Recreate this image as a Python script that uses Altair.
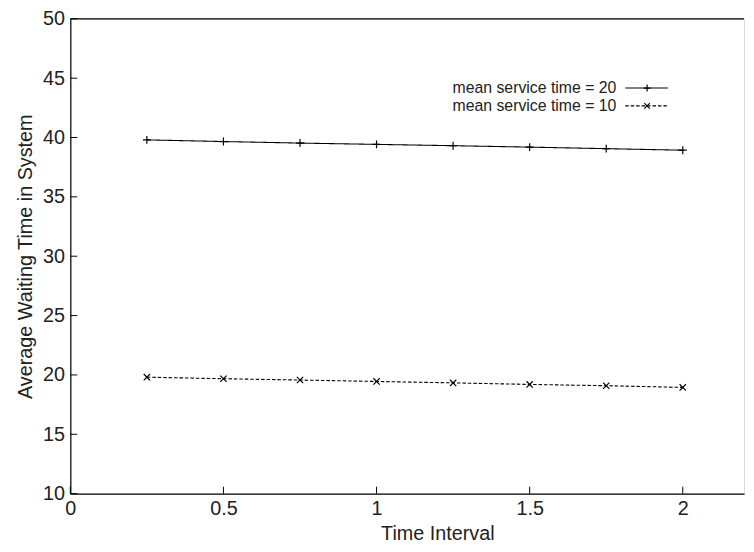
import altair as alt
import pandas as pd

# ---- data ----
time_interval = [0.25, 0.5, 0.75, 1.0, 1.25, 1.5, 1.75, 2.0]
wait_service20 = [39.80, 39.66, 39.53, 39.42, 39.31, 39.19, 39.06, 38.93]
wait_service10 = [19.81, 19.68, 19.57, 19.45, 19.33, 19.20, 19.09, 18.95]
series_labels = ["mean service time = 20", "mean service time = 10"]
x_ticks = [0, 0.5, 1, 1.5, 2]
y_ticks = [10, 15, 20, 25, 30, 35, 40, 45, 50]

# ---- styling ----
W, H = 681, 480
FONT = "Liberation Sans"
TXT = "#222222"
PLUS = "M-1,0L1,0M0,-1L0,1"
XMARK = "M-0.8,-0.8L0.8,0.8M-0.8,0.8L0.8,-0.8"
DASHES = [[1, 0], [3.5, 2]]
SHAPES = [PLUS, XMARK]
FS = 20

rows = []
for lab, vals in zip(series_labels, [wait_service20, wait_service10]):
    for t, v in zip(time_interval, vals):
        rows.append({"t": t, "w": v, "series": lab})
df = pd.DataFrame(rows)

xs = alt.Scale(domain=[0, 2.2], nice=False, zero=False)
ys = alt.Scale(domain=[10, 50], nice=False, zero=False)

x_enc = alt.X("t:Q", scale=xs, axis=alt.Axis(
    title="Time Interval", values=x_ticks, format="~g", tickSize=0, labelPadding=5,
    labelFontSize=FS, titleFontSize=FS, titleFontWeight="normal", titlePadding=5,
    titleX=371, titleAlign="center",
    labelFont=FONT, titleFont=FONT, labelColor=TXT, titleColor=TXT,
    domainColor="black", domainWidth=1.2, grid=False, labelFlush=False))
y_enc = alt.Y("w:Q", scale=ys, axis=alt.Axis(
    title="Average Waiting Time in System", values=y_ticks, tickSize=0, labelPadding=6,
    labelFontSize=FS, titleFontSize=FS, titleFontWeight="normal", titlePadding=7,
    labelFont=FONT, titleFont=FONT, labelColor=TXT, titleColor=TXT,
    domainColor="black", domainWidth=1.2, grid=False, labelFlush=False))

lines = alt.Chart(df).mark_line(color="black", strokeWidth=1.1).encode(
    x=x_enc, y=y_enc,
    strokeDash=alt.StrokeDash("series:N", scale=alt.Scale(domain=series_labels, range=DASHES), legend=None),
)
points = alt.Chart(df).mark_point(color="black", filled=False, strokeWidth=1.2, size=64, opacity=1).encode(
    x="t:Q", y="w:Q",
    shape=alt.Shape("series:N", scale=alt.Scale(domain=series_labels, range=SHAPES), legend=None),
)

# inward ticks (gnuplot style)
xt = alt.Chart(pd.DataFrame({"v": x_ticks})).mark_rule(color="black", strokeWidth=1).encode(
    x=alt.X("v:Q", scale=xs), y=alt.value(H), y2=alt.value(H - 7))
yt = alt.Chart(pd.DataFrame({"v": y_ticks})).mark_rule(color="black", strokeWidth=1).encode(
    y=alt.Y("v:Q", scale=ys), x=alt.value(0), x2=alt.value(7))
top_border = alt.Chart(pd.DataFrame({"a": [0]})).mark_rule(color="black", strokeWidth=1.2).encode(
    x=alt.value(0), x2=alt.value(W), y=alt.value(0))

legend_layers = []
for i, lab in enumerate(series_labels):
    yy = 70 + 18 * i
    d = pd.DataFrame({"label": [lab]})
    legend_layers.append(alt.Chart(d).mark_text(
        align="right", baseline="middle", fontSize=16, font=FONT, color=TXT).encode(
        x=alt.value(552), y=alt.value(yy), text="label:N"))
    legend_layers.append(alt.Chart(d).mark_rule(
        color="black", strokeWidth=1.1, strokeDash=DASHES[i]).encode(
        x=alt.value(561), x2=alt.value(604), y=alt.value(yy)))
    legend_layers.append(alt.Chart(d).mark_point(
        color="black", filled=False, strokeWidth=1.2, size=49, opacity=1, shape=SHAPES[i]).encode(
        x=alt.value(583), y=alt.value(yy)))

chart = alt.layer(lines, points, xt, yt, top_border, *legend_layers).properties(
    width=W, height=H,
    autosize=alt.AutoSizeParams(type="none"),
    padding={"left": 63, "top": 8, "right": 2, "bottom": 48},
).configure_view(stroke=None).configure(background="white")

chart.save("out.html", embed_options={"renderer": "svg", "actions": False})
